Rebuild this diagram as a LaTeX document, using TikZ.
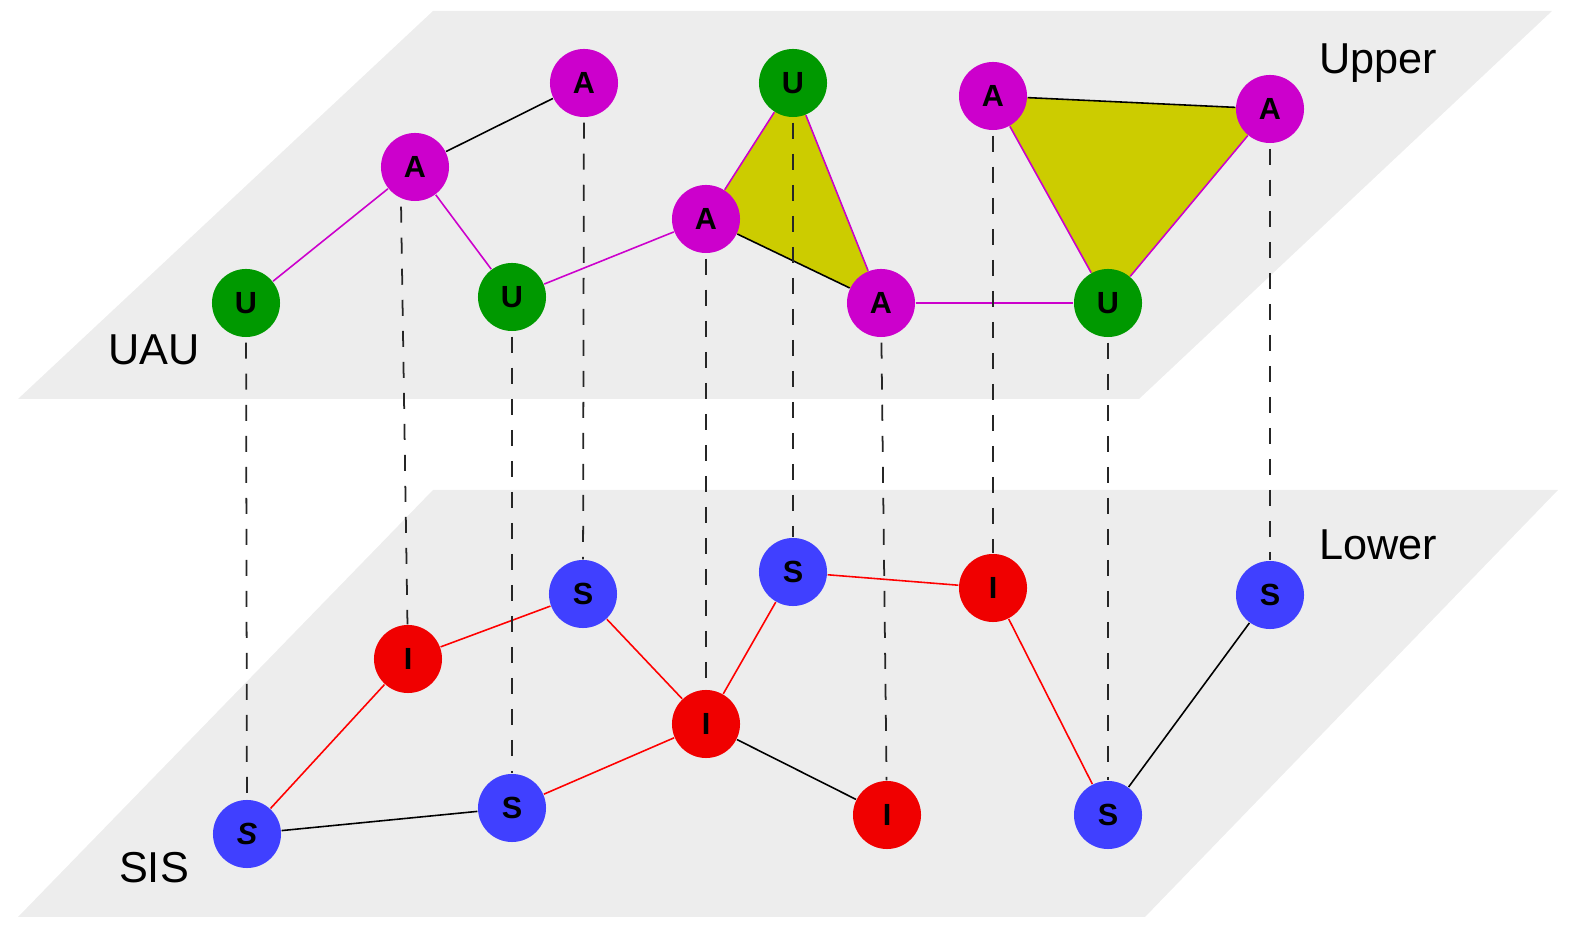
\documentclass[tikz,border=0pt]{standalone}
\usepackage{fontspec}
\setmainfont{Liberation Sans}
\usetikzlibrary{backgrounds}
\definecolor{planegray}{RGB}{237,237,237}
\definecolor{awaremag}{RGB}{204,0,204}
\definecolor{unawaregreen}{RGB}{0,153,0}
\definecolor{suscblue}{RGB}{64,64,255}
\definecolor{infred}{RGB}{240,0,0}
\definecolor{triyellow}{RGB}{204,204,0}

\begin{document}
\begin{tikzpicture}[
    x=0.01cm, y=-0.01cm,
    agent/.style={circle, minimum size=0.68cm, inner sep=0pt, font=\fontsize{8.7}{9}\selectfont\bfseries},
    aware/.style={agent, fill=awaremag},
    unaware/.style={agent, fill=unawaregreen},
    susc/.style={agent, fill=suscblue},
    infect/.style={agent, fill=infred},
    plane/.style={fill=planegray, draw=none},
    layerlabel/.style={font=\fontsize{12.3}{14}\selectfont, anchor=base, inner sep=0pt},
    link/.style={line width=0.45pt, black},
    alink/.style={line width=0.45pt, awaremag},
    ilink/.style={line width=0.45pt, red},
    coupling/.style={dash pattern=on 0.16cm off 0.15cm, line width=0.5pt, black!85, shorten <=0.05cm}
]
\useasboundingbox (0,0) rectangle (1578,928);

% Upper layer (UAU)
\node[unaware] (u1) at (246,303) {U};
\node[aware] (a1) at (415,167) {A};
\node[aware] (a2) at (584,83) {A};
\node[unaware] (u2) at (512,297) {U};
\node[aware] (a3) at (706,219) {A};
\node[unaware] (u3) at (793,83) {U};
\node[aware] (a4) at (881,303) {A};
\node[aware] (a5) at (993,96) {A};
\node[aware] (a6) at (1270,109) {A};
\node[unaware] (u4) at (1108,303) {U};

% Lower layer (SIS)
\node[susc] (s1) at (247,834) {\itshape S};
\node[infect] (i1) at (408,659) {I};
\node[susc] (s2) at (583,594) {S};
\node[susc] (s3) at (512,808) {S};
\node[infect] (i2) at (706,724) {I};
\node[susc] (s4) at (793,572) {S};
\node[infect] (i3) at (887,815) {I};
\node[infect] (i4) at (993,588) {I};
\node[susc] (s5) at (1270,595) {S};
\node[susc] (s6) at (1108,815) {S};

% Layer labels
\node[layerlabel] (upper) at (1378,74) {Upper};
\node[layerlabel] (uau) at (154,365) {UAU};
\node[layerlabel] (lower) at (1378,560) {Lower};
\node[layerlabel] (sis) at (154,883) {SIS};

% Planes and triangles
\begin{pgfonlayer}{background}
\fill[plane] (433,11) -- (1552,11) -- (1139,399) -- (18,399) -- cycle;
\fill[plane] (433,490) -- (1558,490) -- (1145,917) -- (18,917) -- cycle;
\fill[triyellow] (a3.center) -- (u3.center) -- (a4.center) -- cycle;
\fill[triyellow] (a5.center) -- (a6.center) -- (u4.center) -- cycle;
\end{pgfonlayer}

% Upper links
\draw[link] (a1) -- (a2);
\draw[alink] (u1) -- (a1);
\draw[alink] (a1) -- (u2);
\draw[alink] (u2) -- (a3);
\draw[link] (a3) -- (a4);
\draw[alink] (a3) -- (u3);
\draw[alink] (u3) -- (a4);
\draw[alink] (a4) -- (u4);
\draw[link] (a5) -- (a6);
\draw[alink] (a5) -- (u4);
\draw[alink] (a6) -- (u4);

% Lower links
\draw[ilink] (s1) -- (i1);
\draw[ilink] (i1) -- (s2);
\draw[ilink] (s2) -- (i2);
\draw[link] (s1) -- (s3);
\draw[ilink] (s3) -- (i2);
\draw[ilink] (i2) -- (s4);
\draw[link] (i2) -- (i3);
\draw[ilink] (s4) -- (i4);
\draw[ilink] (i4) -- (s6);
\draw[link] (s6) -- (s5);

% Couplings between layers
\draw[coupling] (u1) -- (s1);
\draw[coupling] ([xshift=-0.14cm]a1.south) -- (i1);
\draw[coupling] (a2) -- (s2);
\draw[coupling] (u2) -- (s3);
\draw[coupling] (a3) -- (i2);
\draw[coupling] (u3) -- (s4);
\draw[coupling] (a4) -- (i3);
\draw[coupling] (a5) -- (i4);
\draw[coupling] (u4) -- (s6);
\draw[coupling] (a6) -- (s5);

\end{tikzpicture}
\end{document}
